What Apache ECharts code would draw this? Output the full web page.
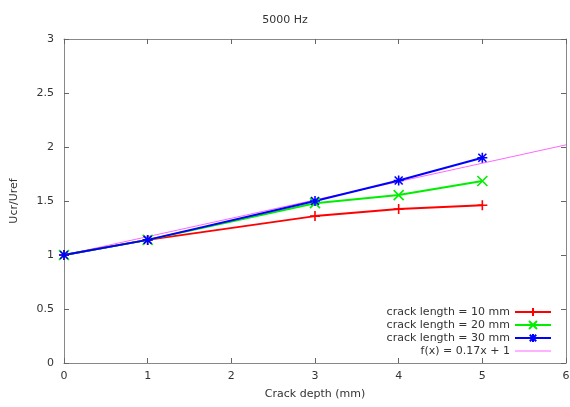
<!DOCTYPE html>
<html>
<head>
<meta charset="utf-8">
<script src="https://cdn.jsdelivr.net/npm/echarts@6/dist/echarts.min.js"></script>
<style>
  html, body { margin: 0; padding: 0; background: #fff; }
  #chart { width: 570px; height: 407px; }
</style>
</head>
<body>
<div id="chart"></div>
<script>
const depths = [0, 1, 3, 4, 5];
const crack10 = [1.0, 1.14, 1.36, 1.425, 1.46];
const crack20 = [1.0, 1.14, 1.48, 1.555, 1.685];
const crack30 = [1.0, 1.14, 1.5, 1.69, 1.9];
const fitLine = [[0, 1.0], [6, 2.02]];
const seriesNames = ['crack length = 10 mm', 'crack length = 20 mm', 'crack length = 30 mm', 'f(x) = 0.17x + 1'];

const plus = 'path://M0,5L10,5M5,0L5,10';
const cross = 'path://M0,0L10,10M10,0L0,10';
const star = 'path://M0,5L10,5M5,0L5,10M1,1L9,9M9,1L1,9';

const font = 'DejaVu Sans, sans-serif';
const gray = '#888';

function pts(vals) {
  return depths.map((d, i) => [d, vals[i]]);
}
function markSeries(name, vals, color, symbol) {
  return {
    name: name,
    type: 'line',
    data: pts(vals),
    symbol: symbol,
    symbolSize: 10,
    showAllSymbol: true,
    lineStyle: { color: color, width: 2 },
    itemStyle: { color: color, borderColor: color, borderWidth: 1.6 },
    emphasis: { disabled: true }
  };
}

const chart = echarts.init(document.getElementById('chart'));
const axisCommon = {
  type: 'value',
  axisLine: { show: true, onZero: false, lineStyle: { color: gray } },
  axisTick: { show: true, inside: true, length: 5, lineStyle: { color: '#666', width: 1 } },
  splitLine: { show: false }
};
chart.setOption({
  animation: false,
  title: {
    text: '5000 Hz', left: 'center', top: 10,
    textStyle: { fontSize: 11, fontWeight: 'normal', color: '#333', fontFamily: font }
  },
  grid: { left: 64, right: 4, top: 39, bottom: 44, show: false, outerBoundsMode: 'none', containLabel: false },
  legend: {
    orient: 'vertical', right: 13, bottom: 45, align: 'right',
    itemWidth: 36, itemHeight: 10, itemGap: 1,
    textStyle: { fontSize: 11, lineHeight: 12, color: '#333', fontFamily: font },
    data: seriesNames.slice(0, 3).concat([
      { name: seriesNames[3], icon: 'path://M0,0L36,0L36,1L0,1Z' }
    ])
  },
  xAxis: [
    Object.assign({}, axisCommon, {
      min: 0, max: 6, interval: 1,
      name: 'Crack depth (mm)', nameLocation: 'middle', nameGap: 26,
      nameTextStyle: { fontSize: 11, color: '#333', fontFamily: font },
      axisLabel: { fontSize: 11, color: '#333', fontFamily: font, margin: 8 }
    }),
    Object.assign({}, axisCommon, {
      position: 'top', min: 0, max: 6, interval: 1, axisLabel: { show: false }
    })
  ],
  yAxis: [
    Object.assign({}, axisCommon, {
      min: 0, max: 3, interval: 0.5,
      name: 'Ucr/Uref', nameLocation: 'middle', nameGap: 44,
      nameTextStyle: { fontSize: 11, color: '#333', fontFamily: font },
      axisLabel: { fontSize: 11, color: '#333', fontFamily: font, margin: 10 }
    }),
    Object.assign({}, axisCommon, {
      position: 'right', min: 0, max: 3, interval: 0.5, axisLabel: { show: false }
    })
  ],
  series: [
    markSeries(seriesNames[0], crack10, '#ff0000', plus),
    markSeries(seriesNames[1], crack20, '#00ee00', cross),
    markSeries(seriesNames[2], crack30, '#0000ff', star),
    {
      name: seriesNames[3], type: 'line', data: fitLine, symbol: 'none',
      lineStyle: { color: '#ff66ff', width: 1 },
      itemStyle: { color: '#ff66ff' },
      z: 1, emphasis: { disabled: true }
    }
  ]
});
</script>
</body>
</html>
